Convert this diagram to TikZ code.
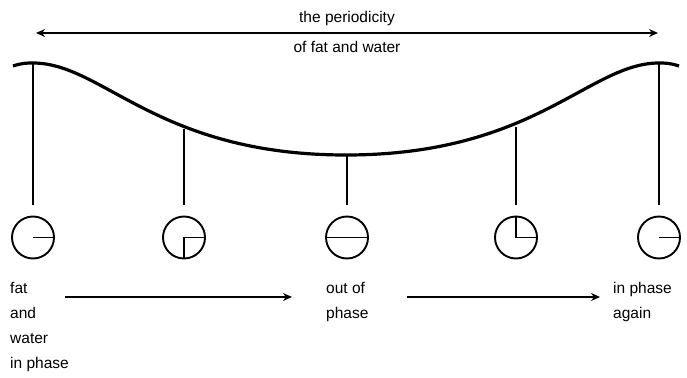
\documentclass[tikz,border=0pt]{standalone}
\usepackage{fontspec}
\setmainfont{Liberation Sans}
\usetikzlibrary{arrows.meta}

\begin{document}
\begin{tikzpicture}[x=1pt, y=-1pt,
    every node/.style={font=\fontsize{15.5}{25}\selectfont, inner sep=0pt},
    clock/.style={circle, draw, line width=1.9pt, minimum size=42pt},
    hand/.style={line width=1.9pt},
    wave/.style={line width=3.2pt},
    stem/.style={line width=1.4pt, shorten >=11pt},
    arr/.style={-{Stealth[length=9pt,width=8pt]}, line width=1.5pt},
    darr/.style={{Stealth[length=9pt,width=8pt]}-{Stealth[length=9pt,width=8pt]}, line width=1.5pt},
]
\useasboundingbox (0,0) rectangle (687,377);

%% Period label
\node[anchor=base] (per1) at (347,23) {the periodicity};
\node[anchor=base] (per2) at (347,53) {of fat and water};
\coordinate (pl) at (36,33);
\coordinate (pr) at (658,33);
\draw[darr] (pl) -- (pr);

%% Wave
\draw[wave] (13,66) .. controls (22,63) and (27,63) .. (33,63)
    .. controls (103,63) and (157,155) .. (346,155)
    .. controls (535,155) and (589,63) .. (659,63)
    .. controls (665,63) and (670,63) .. (679,66);

\coordinate (top1) at (33,63);
\coordinate (top2) at (184,129);
\coordinate (top3) at (347,155);
\coordinate (top4) at (516,127);
\coordinate (top5) at (659,63);

%% Clocks
\node[clock] (clk1) at (33,237.5)  {};
\node[clock] (clk2) at (184,237.5) {};
\node[clock] (clk3) at (347,237.5) {};
\node[clock] (clk4) at (516,237.5) {};
\node[clock] (clk5) at (659,237.5) {};

\foreach \i in {1,...,5}
  \draw[stem] (top\i) -- (clk\i.north);

%% Hands
\draw[hand] (clk1.center) -- (clk1.east);
\draw[hand] (clk2.east) -- (clk2.center) -- (clk2.south);
\draw[hand] (clk3.west) -- (clk3.east);
\draw[hand] (clk4.north) -- (clk4.center) -- (clk4.east);
\draw[hand] (clk5.center) -- (clk5.east);

%% Phase labels
\node[anchor=north west, align=left] (lblA) at (10,282) {fat\\and\\water\\in phase};
\node[anchor=north west, align=left] (lblB) at (326,282) {out of\\phase};
\node[anchor=north west, align=left] (lblC) at (613,282) {in phase\\again};

\coordinate (a1s) at (65,297);
\coordinate (a1e) at (292,297);
\coordinate (a2s) at (407,297);
\coordinate (a2e) at (600,297);
\draw[arr] (a1s) -- (a1e);
\draw[arr] (a2s) -- (a2e);

\end{tikzpicture}
\end{document}
